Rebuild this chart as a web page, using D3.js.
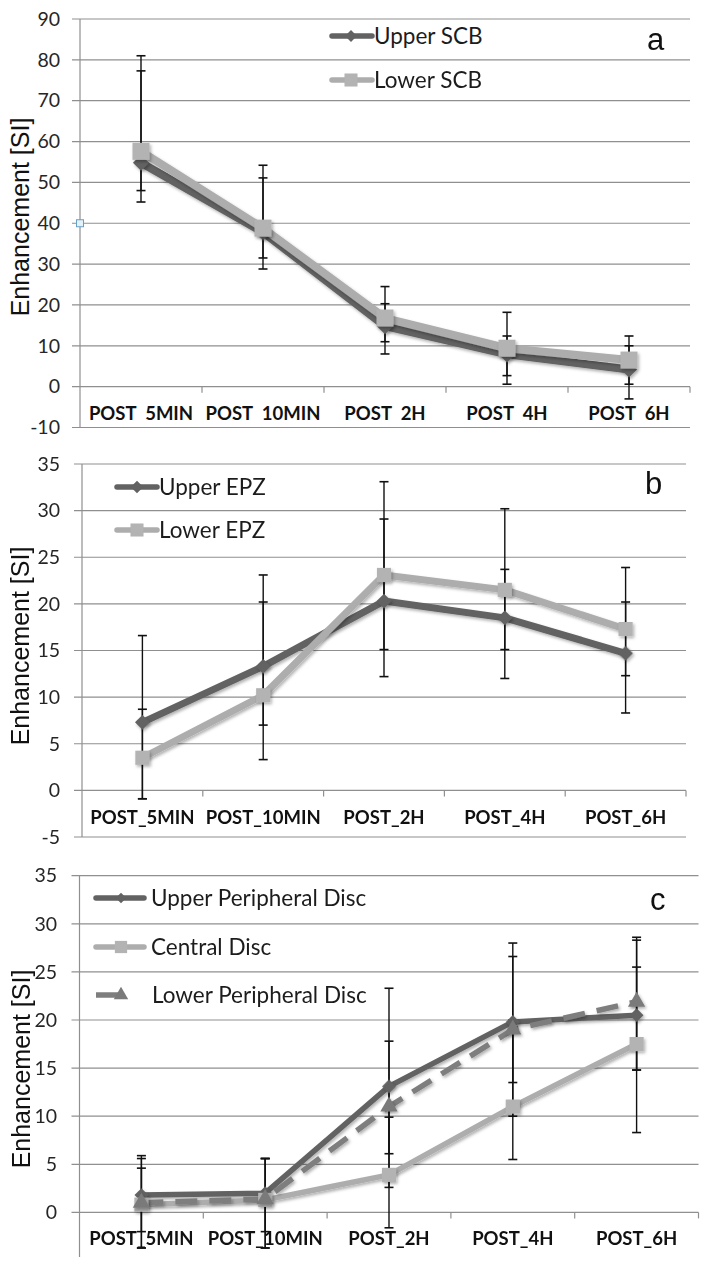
<!DOCTYPE html>
<html>
<head>
<meta charset="utf-8">
<script src="https://cdn.jsdelivr.net/npm/d3@7/dist/d3.min.js"></script>
<style>
  html, body { margin: 0; padding: 0; background: #ffffff; }
  svg { display: block; }
</style>
</head>
<body>
<div id="chart"></div>
<script>
// ---------------- DATA ----------------
const categories = ["POST_5MIN", "POST_10MIN", "POST_2H", "POST_4H", "POST_6H"];

// Panel a
const ticksA = [-10, 0, 10, 20, 30, 40, 50, 60, 70, 80, 90];
const scbUpper     = [54.8, 37.8, 14.8, 7.9, 4.2];
const scbUpperLow  = [45.2, 28.8, 8.0, 2.7, -3.0];
const scbUpperHigh = [77.3, 51.1, 20.3, 12.4, 10.0];
const scbLower     = [57.6, 38.8, 16.8, 9.4, 6.5];
const scbLowerLow  = [48.0, 31.5, 11.0, 0.6, 0.6];
const scbLowerHigh = [81.0, 54.2, 24.5, 18.2, 12.4];

// Panel b
const ticksB = [-5, 0, 5, 10, 15, 20, 25, 30, 35];
const epzUpper     = [7.3, 13.3, 20.3, 18.5, 14.7];
const epzUpperLow  = [-0.9, 3.3, 12.2, 12.0, 8.3];
const epzUpperHigh = [16.6, 23.1, 29.1, 23.7, 20.2];
const epzLower     = [3.5, 10.2, 23.1, 21.5, 17.3];
const epzLowerLow  = [-0.9, 7.0, 15.1, 15.1, 12.3];
const epzLowerHigh = [8.7, 20.2, 33.1, 30.2, 23.9];

// Panel c
const ticksC = [0, 5, 10, 15, 20, 25, 30, 35];
const discUpper       = [1.8, 2.0, 13.1, 19.8, 20.5];
const discUpperLow    = [-2.0, -2.0, 2.6, 13.5, 14.8];
const discUpperHigh   = [5.9, 5.6, 23.3, 26.6, 25.5];
const discCentral     = [0.8, 1.3, 3.9, 11.0, 17.5];
const discCentralLow  = [-3.7, -3.7, -1.6, 5.5, 8.3];
const discCentralHigh = [5.6, 5.6, 9.9, 20.0, 28.3];
const discLower       = [1.0, 1.4, 11.0, 19.0, 21.9];
const discLowerLow    = [-3.7, -3.7, 6.1, 10.0, 14.8];
const discLowerHigh   = [4.6, 5.6, 17.8, 28.0, 28.6];

const seriesNames = {
  a: ["Upper SCB", "Lower SCB"],
  b: ["Upper EPZ", "Lower EPZ"],
  c: ["Upper Peripheral Disc", "Central Disc", "Lower Peripheral Disc"]
};
const yTitle = "Enhancement [SI]";

// ---------------- STYLE ----------------
const DARK = "#626262", LIGHT = "#adadad", MID = "#7e7e7e";
const GRID = "#8f8f8f";
const W = 708, H = 1265;

const svg = d3.select("#chart").append("svg").attr("width", W).attr("height", H);
const defs = svg.append("defs");
const f = defs.append("filter").attr("id", "sh").attr("x", "-30%").attr("y", "-30%").attr("width", "160%").attr("height", "160%");
f.append("feDropShadow").attr("dx", 1.5).attr("dy", 2).attr("stdDeviation", 1.4)
  .attr("flood-color", "#000").attr("flood-opacity", 0.3);
defs.append("clipPath").attr("id", "clipA").append("rect")
  .attr("x", 0).attr("y", 0).attr("width", W).attr("height", 421);

function markerPath(type, size) {
  if (type === "diamond") return d3.symbol(d3.symbolSquare, size)();
  if (type === "square") return d3.symbol(d3.symbolSquare, size)();
  return d3.symbol(d3.symbolTriangle, size)();
}

function drawPanel(cfg) {
  const g = svg.append("g");
  const x = d3.scaleBand().domain(categories).range([cfg.x0, cfg.x1]);
  const y = d3.scaleLinear().domain(cfg.domain).range(cfg.range);
  const cx = c => x(c) + x.bandwidth() / 2;

  // gridlines
  g.selectAll("line.grid").data(cfg.grid).join("line")
    .attr("x1", cfg.x0 - 8).attr("x2", cfg.x1)
    .attr("y1", d => y(d)).attr("y2", d => y(d))
    .attr("stroke", GRID).attr("stroke-width", 1.2);

  // vertical axis line
  g.append("line")
    .attr("x1", cfg.x0).attr("x2", cfg.x0)
    .attr("y1", y(cfg.domain[1])).attr("y2", cfg.axisEnd)
    .attr("stroke", GRID).attr("stroke-width", 1.2);

  // y tick labels
  const ax = d3.axisLeft(y).tickValues(cfg.ticks).tickSize(0)
    .tickPadding(cfg.x0 - cfg.labelRight).tickFormat(d => String(d));
  const axg = g.append("g").attr("transform", `translate(${cfg.x0},0)`).call(ax);
  axg.select(".domain").remove();
  axg.selectAll("text")
    .attr("font-family", "Lato, 'Open Sans', sans-serif")
    .attr("font-size", 19.5).attr("fill", "#262626");

  // category tick marks on zero line
  const bounds = categories.map(c => x(c)).concat([cfg.x1]).slice(1);
  g.selectAll("line.ctick").data(bounds).join("line")
    .attr("x1", d => d).attr("x2", d => d)
    .attr("y1", y(0)).attr("y2", y(0) + 6)
    .attr("stroke", GRID).attr("stroke-width", 1.2);

  // category labels
  const lab = g.append("g");
  if (cfg.clip) lab.attr("clip-path", `url(#${cfg.clip})`);
  lab.selectAll("text").data(categories).join("text")
    .attr("x", d => cx(d)).attr("y", cfg.catBaseline)
    .attr("text-anchor", "middle")
    .attr("font-family", "Lato, 'Open Sans', sans-serif")
    .attr("font-weight", 700).attr("font-size", 18.5).attr("fill", "#111")
    .text(d => d);

  // y title
  g.append("text")
    .attr("transform", `translate(${cfg.titleX},${cfg.titleY}) rotate(-90)`)
    .attr("text-anchor", "middle")
    .attr("font-family", "'Liberation Sans', Arial, sans-serif")
    .attr("font-size", 25).attr("fill", "#111")
    .text(yTitle);

  // error bars
  cfg.series.forEach(s => {
    const eg = g.append("g");
    categories.forEach((c, i) => {
      const xx = cx(c);
      eg.append("line").attr("x1", xx).attr("x2", xx)
        .attr("y1", y(s.low[i])).attr("y2", y(s.high[i]))
        .attr("stroke", "#111").attr("stroke-width", 1.4);
      [s.low[i], s.high[i]].forEach(v => {
        eg.append("line").attr("x1", xx - 4.5).attr("x2", xx + 4.5)
          .attr("y1", y(v)).attr("y2", y(v))
          .attr("stroke", "#111").attr("stroke-width", 1.6);
      });
    });
  });

  // lines
  cfg.series.forEach(s => {
    const line = d3.line().x((d, i) => cx(categories[i])).y(d => y(d));
    g.append("path").datum(s.values)
      .attr("d", line).attr("fill", "none")
      .attr("stroke", s.color).attr("stroke-width", cfg.lineWidth)
      .attr("stroke-linejoin", "round")
      .attr("stroke-dasharray", s.dash || null)
      .attr("filter", "url(#sh)");
  });

  // markers
  cfg.series.forEach(s => {
    g.append("g").attr("filter", "url(#sh)")
      .selectAll("path").data(s.values).join("path")
      .attr("d", markerPath(s.marker, s.size))
      .attr("transform", (d, i) => `translate(${cx(categories[i])},${y(d)})` + (s.marker === "diamond" ? " rotate(45)" : ""))
      .attr("fill", s.mColor || s.color);
  });

  // legend
  cfg.legend.forEach((L, k) => {
    const s = cfg.series[k];
    const lg = g.append("g");
    if (s.dash) {
      lg.append("line").attr("x1", L.x0).attr("x2", L.x0 + 22).attr("y1", L.y).attr("y2", L.y)
        .attr("stroke", s.color).attr("stroke-width", 5.5);
    } else {
      lg.append("line").attr("x1", L.x0).attr("x2", L.x1).attr("y1", L.y).attr("y2", L.y)
        .attr("stroke", s.color).attr("stroke-width", 5.5).attr("stroke-linecap", "round");
    }
    lg.append("path").attr("d", markerPath(s.marker, L.msize))
      .attr("transform", `translate(${L.mx},${L.y})` + (s.marker === "diamond" ? " rotate(45)" : ""))
      .attr("fill", s.mColor || s.color);
    lg.append("text").attr("x", L.tx).attr("y", L.y + 8)
      .attr("font-family", "Lato, 'Open Sans', sans-serif")
      .attr("font-size", 22.5).attr("fill", "#1c1c1c")
      .text(seriesNames[cfg.key][k]);
  });

  // panel letter
  g.append("text").attr("x", cfg.letter.x).attr("y", cfg.letter.y)
    .attr("font-family", "'Liberation Sans', Arial, sans-serif")
    .attr("font-size", 31).attr("fill", "#111")
    .text(cfg.key);

  return { g, x, y };
}

// ---------------- PANEL A ----------------
const pa = drawPanel({
  key: "a",
  x0: 80, x1: 690, domain: [-10, 90], range: [427.5, 19], axisEnd: 427.5,
  grid: ticksA, ticks: ticksA, labelRight: 60, catBaseline: 420, clip: "clipA",
  titleX: 29, titleY: 217, lineWidth: 8,
  series: [
    { values: scbUpper, low: scbUpperLow, high: scbUpperHigh, color: DARK, marker: "diamond", size: 130 },
    { values: scbLower, low: scbLowerLow, high: scbLowerHigh, color: LIGHT, mColor: "#b3b3b3", marker: "square", size: 290 }
  ],
  legend: [
    { x0: 332, x1: 372, mx: 351, y: 36, tx: 374, msize: 70 },
    { x0: 332, x1: 372, mx: 351, y: 80, tx: 374, msize: 170 }
  ],
  letter: { x: 647, y: 50 }
});
// small selection handle artifact on panel a axis
pa.g.append("rect")
  .attr("x", 80 - 3.5).attr("y", pa.y(40) - 3.5).attr("width", 7).attr("height", 7)
  .attr("fill", "#e3f1f8").attr("stroke", "#6a9fc4").attr("stroke-width", 1);

// ---------------- PANEL B ----------------
drawPanel({
  key: "b",
  x0: 82, x1: 686, domain: [-5, 35], range: [837, 464], axisEnd: 837,
  grid: ticksB, ticks: ticksB, labelRight: 60, catBaseline: 824, clip: null,
  titleX: 29, titleY: 646, lineWidth: 7,
  series: [
    { values: epzUpper, low: epzUpperLow, high: epzUpperHigh, color: DARK, marker: "diamond", size: 110 },
    { values: epzLower, low: epzLowerLow, high: epzLowerHigh, color: LIGHT, mColor: "#b3b3b3", marker: "square", size: 200 }
  ],
  legend: [
    { x0: 117, x1: 157, mx: 137, y: 487, tx: 159, msize: 80 },
    { x0: 117, x1: 157, mx: 137, y: 530, tx: 159, msize: 170 }
  ],
  letter: { x: 645, y: 494 }
});

// ---------------- PANEL C ----------------
drawPanel({
  key: "c",
  x0: 79.5, x1: 698.5, domain: [-5, 35], range: [1260.5, 875.7], axisEnd: 1257,
  grid: ticksC, ticks: ticksC, labelRight: 57, catBaseline: 1245, clip: null,
  titleX: 30, titleY: 1069, lineWidth: 5.5,
  series: [
    { values: discUpper, low: discUpperLow, high: discUpperHigh, color: DARK, marker: "diamond", size: 95 },
    { values: discCentral, low: discCentralLow, high: discCentralHigh, color: LIGHT, mColor: "#b3b3b3", marker: "square", size: 200 },
    { values: discLower, low: discLowerLow, high: discLowerHigh, color: MID, mColor: "#7a7a7a", marker: "triangle", size: 130, dash: "22,12" }
  ],
  legend: [
    { x0: 96, x1: 144, mx: 121, y: 898, tx: 151, msize: 55 },
    { x0: 96, x1: 144, mx: 121, y: 947, tx: 151, msize: 150 },
    { x0: 96, x1: 118, mx: 121, y: 995, tx: 152, msize: 90 }
  ],
  letter: { x: 650, y: 910 }
});
</script>
</body>
</html>
